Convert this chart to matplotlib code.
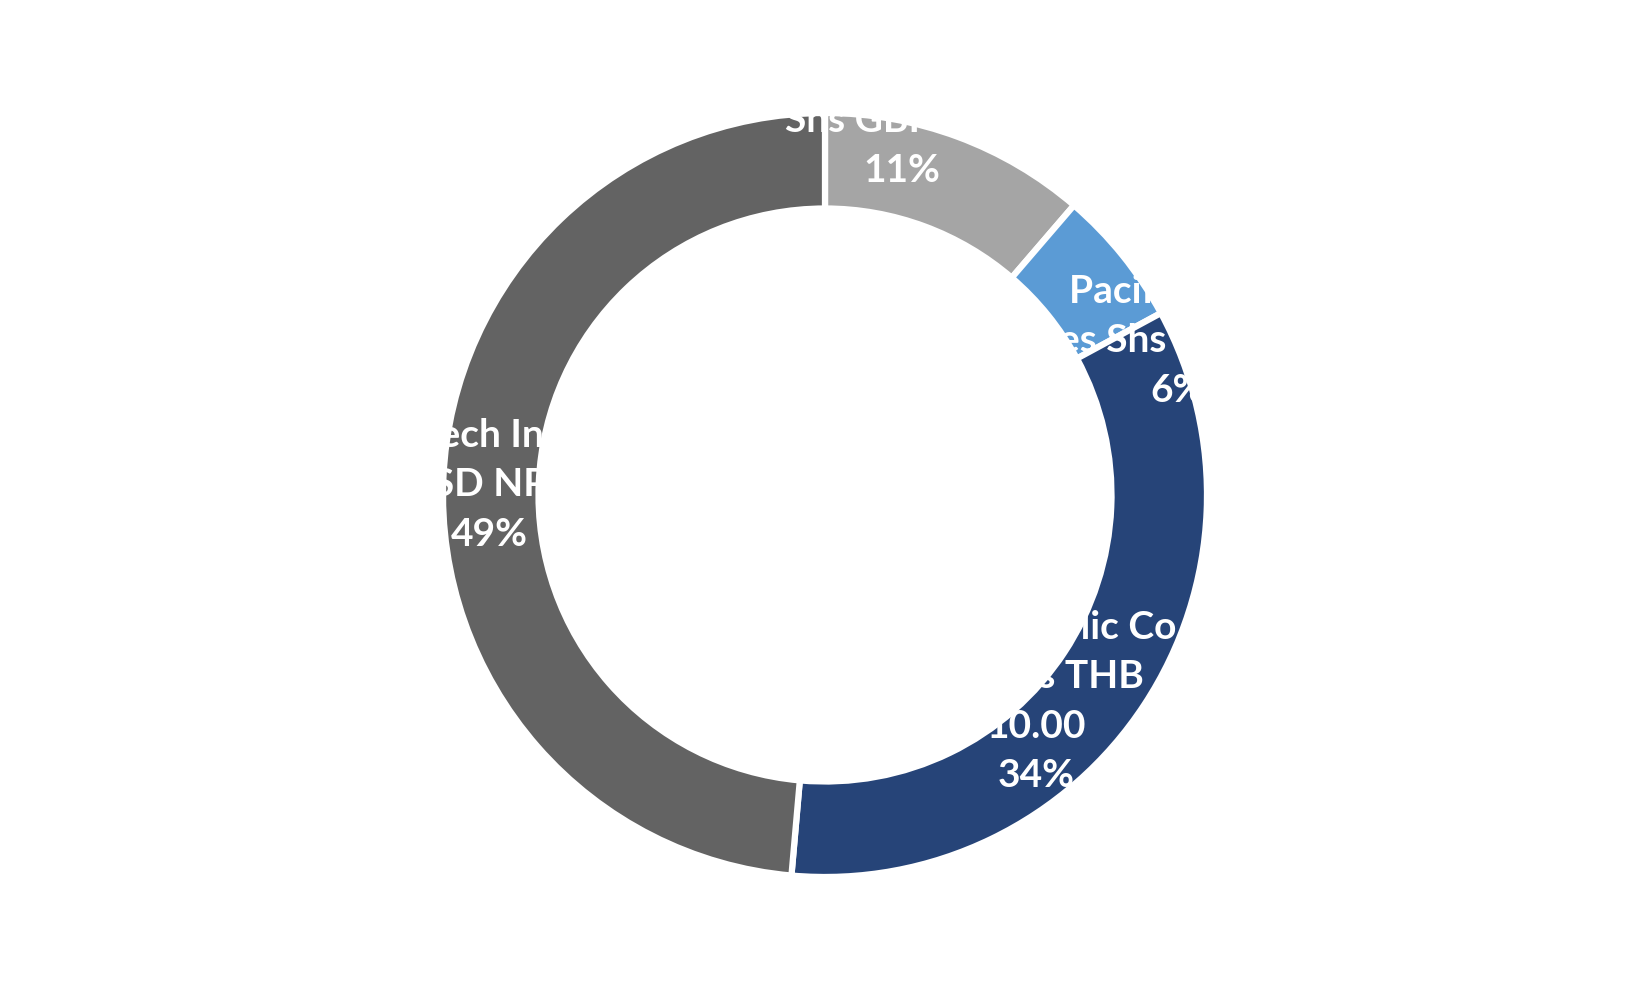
import matplotlib
matplotlib.use("Agg")
import matplotlib.pyplot as plt

# holdings, clockwise from 12 o'clock
names = ["Holdings Plc\nShs GBP 0.25",
         "Pacific Basin\nLines Shs HKD 0.01",
         "SCB X Public Co\nLtd Shs THB\n10.00",
         "Tech Inc\nUSD NPV"]
weights = [11.3, 5.8, 34.3, 48.6]
colors = ["#A5A5A5", "#5B9BD5", "#264478", "#636363"]

# label centres (x, y) in units of the ring radius
label_pos = [(0.203, 0.988), (0.931, 0.407), (0.557, -0.545), (-0.887, 0.027)]

plt.rcParams['font.family'] = ['Lato', 'DejaVu Sans']

fig = plt.figure(figsize=(16.5, 9.9), dpi=100)
ax = fig.add_axes([0, 0, 1, 1])

R = 379.0  # outer radius in pixels
wedges, _ = ax.pie(weights, colors=colors, startangle=90, counterclock=False,
                   radius=382 / R,
                   wedgeprops=dict(width=0.252, edgecolor="white", linewidth=4.5))

total = sum(weights)
for name, w, (lx, ly) in zip(names, weights, label_pos):
    txt = "{}\n{:.0f}%".format(name, w / total * 100)
    ax.text(lx, ly, txt, ha="center", va="center", color="white",
            fontsize=28, fontweight="bold", linespacing=1.5)

ax.set_xlim(-825 / R, 825 / R)
ax.set_ylim(-495 / R, 495 / R)
ax.axis("off")

fig.savefig("out.png", dpi=100, facecolor="white")
